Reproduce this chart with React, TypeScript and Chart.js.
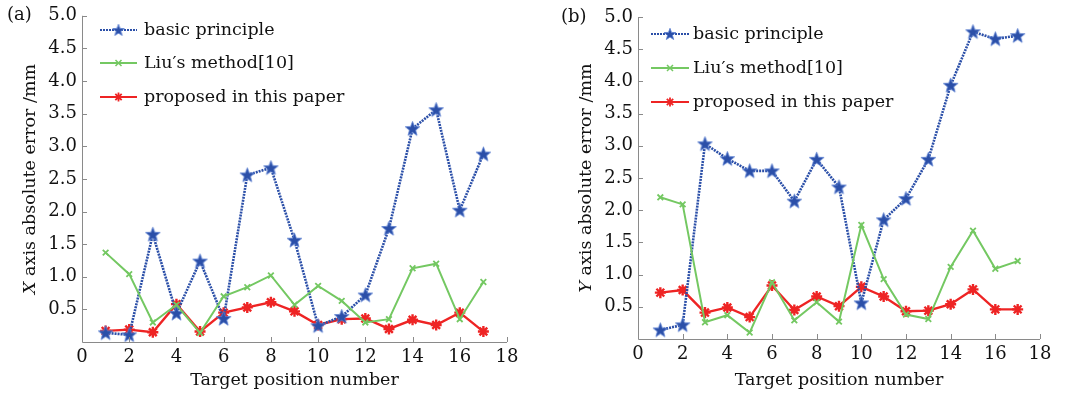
import React, { useEffect, useRef } from "react";
import { Chart, registerables } from "chart.js";
Chart.register(...registerables);

const positions = [1, 2, 3, 4, 5, 6, 7, 8, 9, 10, 11, 12, 13, 14, 15, 16, 17];

const xBasic = [0.14, 0.11, 1.65, 0.44, 1.24, 0.36, 2.56, 2.67, 1.56, 0.25, 0.39, 0.72, 1.74, 3.27, 3.56, 2.02, 2.88];
const xLiu = [1.37, 1.04, 0.3, 0.57, 0.14, 0.7, 0.84, 1.02, 0.57, 0.86, 0.63, 0.3, 0.35, 1.13, 1.2, 0.35, 0.92];
const xProposed = [0.17, 0.19, 0.15, 0.58, 0.16, 0.45, 0.53, 0.61, 0.47, 0.26, 0.35, 0.36, 0.2, 0.34, 0.26, 0.45, 0.16];

const yBasic = [0.14, 0.22, 3.03, 2.8, 2.61, 2.61, 2.14, 2.79, 2.36, 0.56, 1.85, 2.18, 2.79, 3.94, 4.77, 4.66, 4.71];
const yLiu = [2.2, 2.09, 0.26, 0.37, 0.1, 0.88, 0.29, 0.57, 0.27, 1.77, 0.93, 0.38, 0.31, 1.12, 1.68, 1.09, 1.21];
const yProposed = [0.72, 0.76, 0.41, 0.49, 0.34, 0.83, 0.45, 0.66, 0.51, 0.81, 0.66, 0.43, 0.44, 0.54, 0.77, 0.46, 0.46];

const seriesNames = ["basic principle", "Liu\u2032s method[10]", "proposed in this paper"];
const xTicks = [0, 2, 4, 6, 8, 10, 12, 14, 16, 18];
const yTicks = [0.5, 1.0, 1.5, 2.0, 2.5, 3.0, 3.5, 4.0, 4.5, 5.0];

const BLUE = "#2b4fa8";
const GREEN = "#74c862";
const RED = "#ee2424";
const FONT = "'DejaVu Serif', serif";
const TXT = "#111";

function makeStar(size: number) {
  const c = document.createElement("canvas");
  c.width = size;
  c.height = size;
  const ctx = c.getContext("2d")!;
  const cx = size / 2, cy = size / 2 + 0.5;
  const ro = size / 2 - 0.8, ri = ro * 0.42;
  ctx.beginPath();
  for (let i = 0; i < 10; i++) {
    const r = i % 2 === 0 ? ro : ri;
    const a = -Math.PI / 2 + (i * Math.PI) / 5;
    const px = cx + r * Math.cos(a), py = cy + r * Math.sin(a);
    if (i === 0) ctx.moveTo(px, py); else ctx.lineTo(px, py);
  }
  ctx.closePath();
  ctx.fillStyle = BLUE;
  ctx.fill();
  ctx.lineWidth = 0.8;
  ctx.strokeStyle = "#5b7fd0";
  ctx.stroke();
  return c;
}

type Cfg = {
  basic: number[];
  liu: number[];
  proposed: number[];
  axisLetter: string;
  panel: string;
  area: { left: number; right: number; top: number; bottom: number };
  panelPos: [number, number];
  yTitleX: number;
  legend: { x0: number; x1: number; tx: number; ys: number[] };
};

function Panel({ cfg }: { cfg: Cfg }) {
  const ref = useRef<HTMLCanvasElement | null>(null);
  useEffect(() => {
    const W = 537, H = 393;
    const star = makeStar(17);
    const starSmall = makeStar(14);
    const a = cfg.area;
    const overlay = {
      id: "overlay",
      afterDraw(chart: any) {
        const ctx = chart.ctx as CanvasRenderingContext2D;
        const xs = chart.scales.x, ys = chart.scales.y;
        const ca = chart.chartArea;
        ctx.save();
        // axes
        ctx.strokeStyle = "#8a8a8a";
        ctx.lineWidth = 1;
        ctx.beginPath();
        ctx.moveTo(ca.left + 0.5, ca.top);
        ctx.lineTo(ca.left + 0.5, ca.bottom + 0.5);
        ctx.lineTo(ca.right, ca.bottom + 0.5);
        ctx.stroke();
        ctx.beginPath();
        for (const t of xTicks) {
          const px = Math.round(xs.getPixelForValue(t)) + 0.5;
          ctx.moveTo(px, ca.bottom);
          ctx.lineTo(px, ca.bottom - 5);
        }
        for (const t of [...yTicks]) {
          const py = Math.round(ys.getPixelForValue(t)) + 0.5;
          ctx.moveTo(ca.left, py);
          ctx.lineTo(ca.left + 5, py);
        }
        ctx.stroke();
        // titles
        ctx.fillStyle = TXT;
        ctx.font = `17.5px ${FONT}`;
        ctx.textAlign = "center";
        ctx.textBaseline = "middle";
        ctx.fillText("Target position number", (ca.left + ca.right) / 2, 380);
        // y title with italic letter
        ctx.save();
        ctx.translate(cfg.yTitleX, (ca.top + ca.bottom) / 2);
        ctx.rotate(-Math.PI / 2);
        const rest = " axis absolute error /mm";
        ctx.font = `italic 17.5px ${FONT}`;
        const w1 = ctx.measureText(cfg.axisLetter).width;
        ctx.font = `17.5px ${FONT}`;
        const w2 = ctx.measureText(rest).width;
        const start = -(w1 + w2) / 2;
        ctx.textAlign = "left";
        ctx.font = `italic 17.5px ${FONT}`;
        ctx.fillText(cfg.axisLetter, start, 0);
        ctx.font = `17.5px ${FONT}`;
        ctx.fillText(rest, start + w1, 0);
        ctx.restore();
        // panel label
        ctx.textAlign = "left";
        ctx.font = `18px ${FONT}`;
        ctx.fillText(cfg.panel, cfg.panelPos[0], cfg.panelPos[1]);
        // legend
        const L = cfg.legend;
        const colors = [BLUE, GREEN, RED];
        for (let i = 0; i < 3; i++) {
          const y = L.ys[i];
          ctx.strokeStyle = colors[i];
          ctx.lineWidth = i === 0 ? 2.2 : i === 1 ? 1.8 : 2.2;
          ctx.setLineDash(i === 0 ? [2, 1] : []);
          ctx.beginPath();
          ctx.moveTo(L.x0, y);
          ctx.lineTo(L.x1, y);
          ctx.stroke();
          ctx.setLineDash([]);
          const mx = (L.x0 + L.x1) / 2;
          if (i === 0) {
            ctx.drawImage(starSmall, mx - 7, y - 7);
          } else if (i === 1) {
            ctx.lineWidth = 1.5;
            ctx.beginPath();
            ctx.moveTo(mx - 3, y - 3); ctx.lineTo(mx + 3, y + 3);
            ctx.moveTo(mx - 3, y + 3); ctx.lineTo(mx + 3, y - 3);
            ctx.stroke();
          } else {
            ctx.lineWidth = 1.8;
            ctx.beginPath();
            for (let k = 0; k < 4; k++) {
              const ang = (k * Math.PI) / 4;
              ctx.moveTo(mx - 4.5 * Math.cos(ang), y - 4.5 * Math.sin(ang));
              ctx.lineTo(mx + 4.5 * Math.cos(ang), y + 4.5 * Math.sin(ang));
            }
            ctx.stroke();
          }
          ctx.fillStyle = TXT;
          ctx.font = `17.5px ${FONT}`;
          ctx.textBaseline = "middle";
          ctx.fillText(seriesNames[i], L.tx, y);
        }
        ctx.restore();
      },
    };
    const mk = (vals: number[]) => positions.map((p, i) => ({ x: p, y: vals[i] }));
    const chart = new Chart(ref.current!, {
      type: "line",
      data: {
        datasets: [
          {
            label: seriesNames[1],
            data: mk(cfg.liu),
            borderColor: GREEN,
            backgroundColor: GREEN,
            borderWidth: 2,
            pointStyle: "crossRot",
            pointRadius: 4,
            pointBorderWidth: 1.8,
            pointBorderColor: GREEN,
            tension: 0,
          },
          {
            label: seriesNames[0],
            data: mk(cfg.basic),
            borderColor: BLUE,
            backgroundColor: BLUE,
            borderWidth: 2.6,
            borderDash: [2, 1],
            pointStyle: star as any,
            pointRadius: 8,
            tension: 0,
          },
          {
            label: seriesNames[2],
            data: mk(cfg.proposed),
            borderColor: RED,
            backgroundColor: RED,
            borderWidth: 2.4,
            pointStyle: "star",
            pointRadius: 5.5,
            pointBorderWidth: 2.4,
            pointBorderColor: RED,
            tension: 0,
          },
        ],
      },
      options: {
        animation: false,
        responsive: false,
        maintainAspectRatio: false,
        layout: { padding: { left: 0, top: a.top, right: W - a.right, bottom: 0 } },
        plugins: { legend: { display: false }, tooltip: { enabled: false } },
        scales: {
          x: {
            type: "linear",
            min: 0,
            max: 18,
            afterBuildTicks: (s: any) => { s.ticks = xTicks.map((v) => ({ value: v })); },
            afterFit: (s: any) => { s.height = H - a.bottom; },
            grid: { display: false, drawTicks: false },
            border: { display: false },
            ticks: { color: TXT, font: { family: FONT, size: 18 }, padding: 5, maxRotation: 0, autoSkip: false },
          },
          y: {
            type: "linear",
            min: 0,
            max: 5,
            afterBuildTicks: (s: any) => { s.ticks = yTicks.map((v) => ({ value: v })); },
            afterFit: (s: any) => { s.width = a.left; },
            grid: { display: false, drawTicks: false },
            border: { display: false },
            ticks: { color: TXT, font: { family: FONT, size: 18 }, padding: 5, callback: (v: any) => Number(v).toFixed(1) },
          },
        },
      },
      plugins: [overlay],
    });
    return () => chart.destroy();
  }, []);
  return <canvas ref={ref} width={537} height={393} style={{ display: "block", width: 537, height: 393 }} />;
}

const leftCfg: Cfg = {
  basic: xBasic,
  liu: xLiu,
  proposed: xProposed,
  axisLetter: "X",
  panel: "(a)",
  area: { left: 82, right: 507, top: 12, bottom: 342 },
  panelPos: [7, 15],
  yTitleX: 30,
  legend: { x0: 100, x1: 137, tx: 144, ys: [30, 63, 97] },
};

const rightCfg: Cfg = {
  basic: yBasic,
  liu: yLiu,
  proposed: yProposed,
  axisLetter: "Y",
  panel: "(b)",
  area: { left: 101, right: 503, top: 17, bottom: 339 },
  panelPos: [24, 17],
  yTitleX: 49,
  legend: { x0: 114, x1: 152, tx: 156, ys: [34, 68, 102] },
};

export default function App() {
  return (
    <div style={{ position: "absolute", left: 0, top: 0, width: 1074, height: 393, background: "#fff", display: "flex" }}>
      <Panel cfg={leftCfg} />
      <Panel cfg={rightCfg} />
    </div>
  );
}
